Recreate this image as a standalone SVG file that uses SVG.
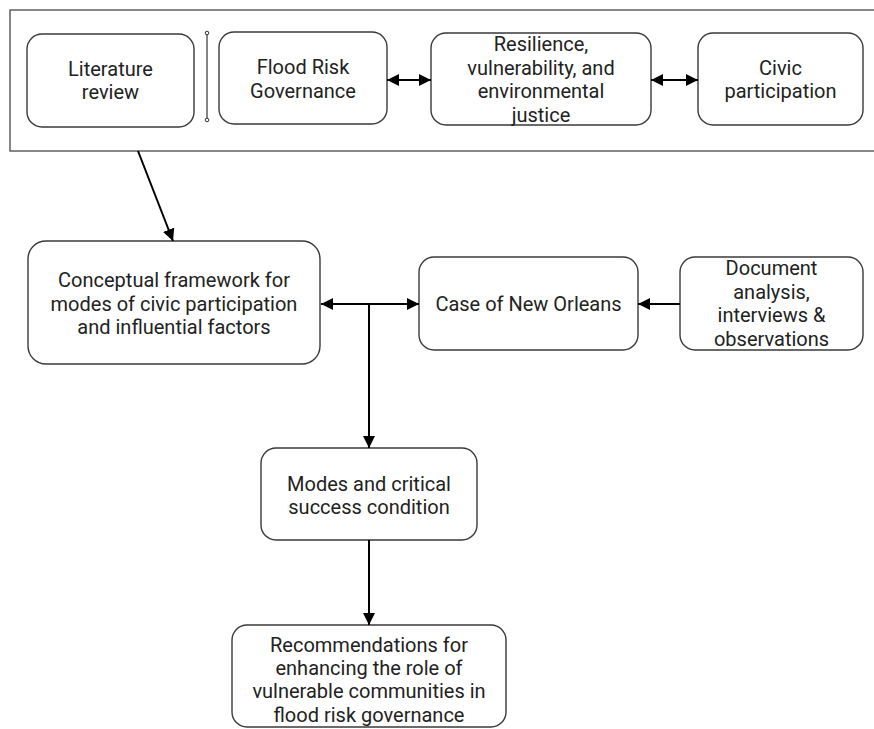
<svg xmlns="http://www.w3.org/2000/svg" width="874" height="729" viewBox="0 0 874 729">
<defs>
<marker id="ah" viewBox="0 0 12 12" refX="12" refY="6" markerWidth="12" markerHeight="12" markerUnits="userSpaceOnUse" orient="auto-start-reverse">
<path d="M0,0 L12,6 L0,12 z" fill="#000"/>
</marker>
<style>
.box{fill:#fff;stroke:#3a3a3a;stroke-width:1.4}
.t{font-family:Roboto,"Liberation Sans",sans-serif;font-size:20px;fill:#222;text-anchor:middle}
.c{stroke:#000;stroke-width:2;fill:none}
</style>
</defs>
<rect width="874" height="729" fill="#fff"/>
<rect id="container" x="10" y="10" width="880" height="141" fill="#fff" stroke="#555" stroke-width="1.4"/>
<g id="separator">
<line x1="207" y1="33" x2="207" y2="120" stroke="#333" stroke-width="1.2"/>
<circle cx="207" cy="33" r="1.8" fill="#fff" stroke="#333" stroke-width="1"/>
<circle cx="207" cy="120" r="1.8" fill="#fff" stroke="#333" stroke-width="1"/>
</g>
<g id="literature">
<rect class="box" x="27" y="34" width="167" height="93" rx="15"/>
<text class="t" x="110.5" y="76">Literature</text>
<text class="t" x="110.5" y="99">review</text>
</g>
<g id="flood">
<rect class="box" x="219" y="32" width="168" height="92" rx="15"/>
<text class="t" x="303" y="74">Flood Risk</text>
<text class="t" x="303" y="98">Governance</text>
</g>
<g id="resilience">
<rect class="box" x="431" y="33" width="220" height="92" rx="15"/>
<text class="t" x="541" y="51">Resilience,</text>
<text class="t" x="541" y="75">vulnerability, and</text>
<text class="t" x="541" y="98">environmental</text>
<text class="t" x="541" y="122">justice</text>
</g>
<g id="civic">
<rect class="box" x="698" y="33" width="165" height="92" rx="15"/>
<text class="t" x="780.5" y="75">Civic</text>
<text class="t" x="780.5" y="98">participation</text>
</g>
<g id="conceptual">
<rect class="box" x="28" y="241" width="292" height="123" rx="18"/>
<text class="t" x="174" y="287">Conceptual framework for</text>
<text class="t" x="174" y="311">modes of civic participation</text>
<text class="t" x="174" y="334">and influential factors</text>
</g>
<g id="case">
<rect class="box" x="419" y="257" width="219" height="93" rx="15"/>
<text class="t" x="528.5" y="311">Case of New Orleans</text>
</g>
<g id="document">
<rect class="box" x="680" y="257" width="183" height="93" rx="15"/>
<text class="t" x="771.5" y="275">Document</text>
<text class="t" x="771.5" y="299">analysis,</text>
<text class="t" x="771.5" y="322">interviews &amp;</text>
<text class="t" x="771.5" y="346">observations</text>
</g>
<g id="modes">
<rect class="box" x="261" y="448" width="216" height="92" rx="15"/>
<text class="t" x="369" y="491">Modes and critical</text>
<text class="t" x="369" y="514">success condition</text>
</g>
<g id="recommendations">
<rect class="box" x="232" y="625" width="274" height="102" rx="15"/>
<text class="t" x="369" y="652">Recommendations for</text>
<text class="t" x="369" y="675">enhancing the role of</text>
<text class="t" x="369" y="698">vulnerable communities in</text>
<text class="t" x="369" y="722">flood risk governance</text>
</g>
<g id="connectors">
<line class="c" x1="387" y1="80" x2="431" y2="80" marker-start="url(#ah)" marker-end="url(#ah)"/>
<line class="c" x1="651" y1="80" x2="698" y2="80" marker-start="url(#ah)" marker-end="url(#ah)"/>
<line class="c" x1="138" y1="151" x2="173" y2="241" marker-end="url(#ah)"/>
<line class="c" x1="321" y1="304" x2="419" y2="304" marker-start="url(#ah)" marker-end="url(#ah)"/>
<line class="c" x1="369" y1="304" x2="369" y2="448" marker-end="url(#ah)"/>
<line class="c" x1="680" y1="304" x2="638" y2="304" marker-end="url(#ah)"/>
<line class="c" x1="369" y1="540" x2="369" y2="625" marker-end="url(#ah)"/>
</g>
</svg>
